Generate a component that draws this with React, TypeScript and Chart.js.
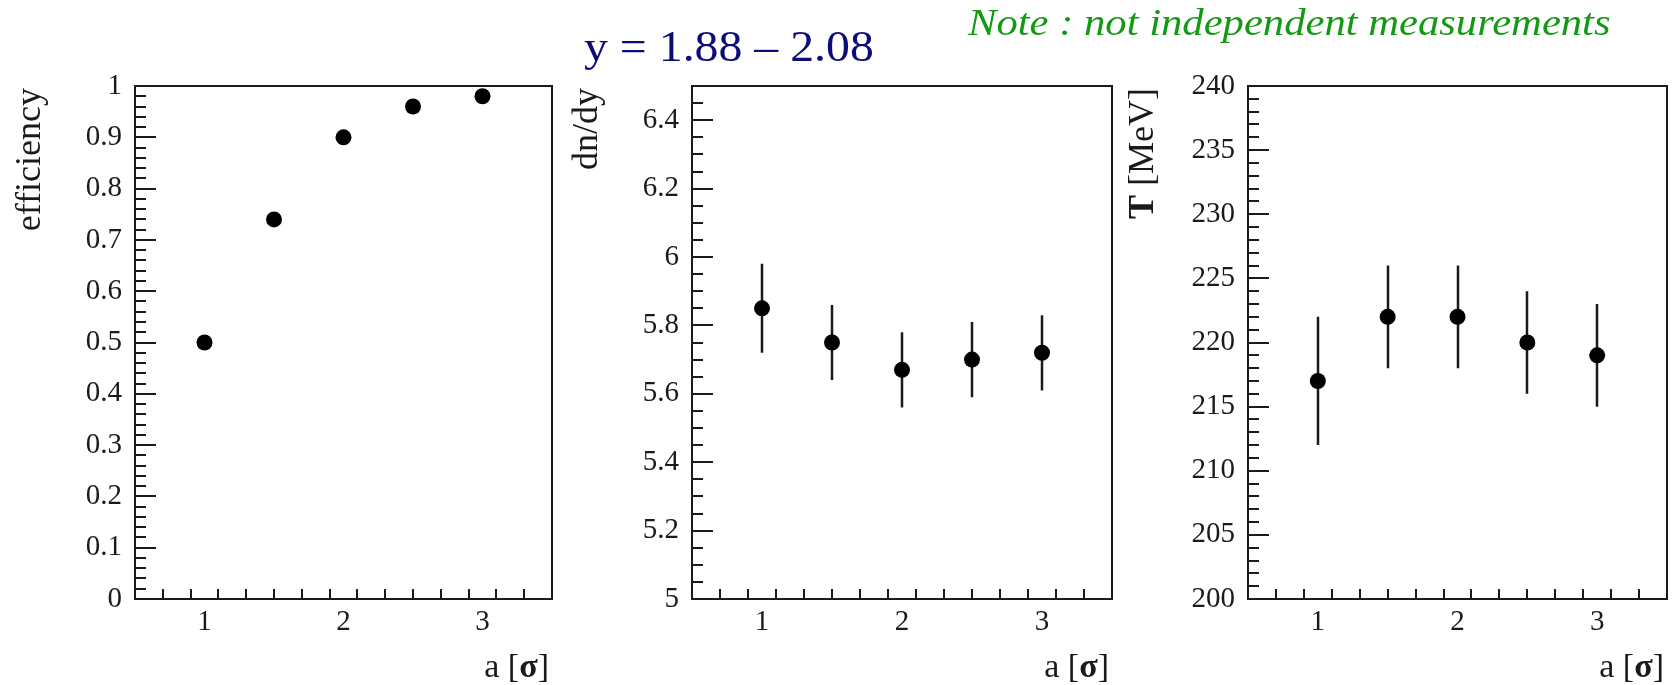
import React, { useEffect, useLayoutEffect, useRef } from 'react';
import { Chart, registerables } from 'chart.js';

Chart.register(...registerables);

// ---------- data ----------
const aValues = [1, 1.5, 2, 2.5, 3];

const efficiency = [0.5, 0.74, 0.9, 0.96, 0.98];

const dndy = [5.85, 5.75, 5.67, 5.7, 5.72];
const dndyLow = [5.72, 5.64, 5.56, 5.59, 5.61];
const dndyHigh = [5.98, 5.86, 5.78, 5.81, 5.83];

const temperature = [217, 222, 222, 220, 219];
const temperatureLow = [212, 218, 218, 216, 215];
const temperatureHigh = [222, 226, 226, 224, 223];

// ---------- ticks ----------
const xTickValues = [1, 2, 3];
const xTickLabels = ['1', '2', '3'];

const effTickValues = [0, 0.1, 0.2, 0.3, 0.4, 0.5, 0.6, 0.7, 0.8, 0.9, 1];
const effTickLabels = ['0', '0.1', '0.2', '0.3', '0.4', '0.5', '0.6', '0.7', '0.8', '0.9', '1'];

const dndyTickValues = [5, 5.2, 5.4, 5.6, 5.8, 6, 6.2, 6.4];
const dndyTickLabels = ['5', '5.2', '5.4', '5.6', '5.8', '6', '6.2', '6.4'];

const tTickValues = [200, 205, 210, 215, 220, 225, 230, 235, 240];
const tTickLabels = ['200', '205', '210', '215', '220', '225', '230', '235', '240'];

// ---------- texts ----------
const titleText = 'y = 1.88 \u2013 2.08';
const noteText = 'Note : not independent measurements';

type Seg = { text: string; bold?: boolean };

const FONT = "'Liberation Serif', 'Times New Roman', serif";
const INK = '#1a1a1a';
const CANVAS_H = 685;
const PLOT_TOP = 86;
const PLOT_BOTTOM = 599;

interface PanelCfg {
  left: number;
  width: number;
  yAxisWidth: number;
  rightPad: number;
  yMin: number;
  yMax: number;
  yMinorStep: number;
  yTickValues: number[];
  yTickLabels: string[];
  values: number[];
  low?: number[];
  high?: number[];
  yTitle: Seg[];
}

const panels: PanelCfg[] = [
  {
    left: 0, width: 560, yAxisWidth: 135, rightPad: 4,
    yMin: 0, yMax: 1, yMinorStep: 0.02,
    yTickValues: effTickValues, yTickLabels: effTickLabels,
    values: efficiency,
    yTitle: [{ text: 'efficiency' }],
  },
  {
    left: 560, width: 560, yAxisWidth: 132, rightPad: 8,
    yMin: 5, yMax: 6.5, yMinorStep: 0.05,
    yTickValues: dndyTickValues, yTickLabels: dndyTickLabels,
    values: dndy, low: dndyLow, high: dndyHigh,
    yTitle: [{ text: 'dn/dy' }],
  },
  {
    left: 1120, width: 555, yAxisWidth: 128, rightPad: 7,
    yMin: 200, yMax: 240, yMinorStep: 1,
    yTickValues: tTickValues, yTickLabels: tTickLabels,
    values: temperature, low: temperatureLow, high: temperatureHigh,
    yTitle: [{ text: 'T', bold: true }, { text: ' [MeV]' }],
  },
];

const xTitle: Seg[] = [{ text: 'a [' }, { text: '\u03c3', bold: true }, { text: ']' }];

function segFont(s: Seg, size: number) {
  return `${s.bold ? 'bold ' : ''}${size}px ${FONT}`;
}

function drawSegsRight(ctx: CanvasRenderingContext2D, segs: Seg[], size: number, xRight: number, y: number) {
  let total = 0;
  const widths = segs.map((s) => {
    ctx.font = segFont(s, size);
    const w = ctx.measureText(s.text).width;
    total += w;
    return w;
  });
  let x = xRight - total;
  ctx.textAlign = 'left';
  ctx.textBaseline = 'alphabetic';
  segs.forEach((s, i) => {
    ctx.font = segFont(s, size);
    ctx.fillText(s.text, x, y);
    x += widths[i];
  });
}

function makePlugin(cfg: PanelCfg) {
  return {
    id: 'rootStyle',
    beforeDatasetsDraw(chart: any) {
      const { ctx, chartArea: a, scales } = chart;
      const xs = scales.x;
      const ys = scales.y;
      ctx.save();
      ctx.strokeStyle = INK;
      ctx.lineWidth = 2;
      ctx.beginPath();
      // x ticks (minor every 0.2)
      const xStep = 0.2;
      const nx = Math.round((xs.max - xs.min) / xStep);
      for (let i = 1; i < nx; i++) {
        const v = xs.min + i * xStep;
        const major = xTickValues.some((t) => Math.abs(t - v) < 1e-6);
        const px = Math.round(xs.getPixelForValue(v));
        ctx.moveTo(px, a.bottom);
        ctx.lineTo(px, a.bottom - (major ? 21 : 10));
      }
      // y ticks
      const ny = Math.round((cfg.yMax - cfg.yMin) / cfg.yMinorStep);
      for (let i = 1; i < ny; i++) {
        const v = cfg.yMin + i * cfg.yMinorStep;
        const major = cfg.yTickValues.some((t) => Math.abs(t - v) < 1e-6);
        const py = Math.round(ys.getPixelForValue(v));
        ctx.moveTo(a.left, py);
        ctx.lineTo(a.left + (major ? 21 : 11), py);
      }
      ctx.stroke();
      // frame
      ctx.strokeRect(a.left, a.top, a.right - a.left, a.bottom - a.top);
      // error bars
      if (cfg.low && cfg.high) {
        ctx.lineWidth = 2.5;
        ctx.beginPath();
        aValues.forEach((x, i) => {
          const px = Math.round(xs.getPixelForValue(x));
          ctx.moveTo(px, ys.getPixelForValue(cfg.low![i]));
          ctx.lineTo(px, ys.getPixelForValue(cfg.high![i]));
        });
        ctx.stroke();
      }
      ctx.restore();
    },
    afterDraw(chart: any) {
      const { ctx, chartArea: a } = chart;
      ctx.save();
      ctx.fillStyle = INK;
      // x title
      drawSegsRight(ctx, xTitle, 34, a.right - 3, 677);
      // y title rotated
      ctx.translate(a.left - 95, a.top + 2);
      ctx.rotate(-Math.PI / 2);
      drawSegsRight(ctx, cfg.yTitle, 36, 0, 0);
      ctx.restore();
    },
  };
}

function Panel({ cfg }: { cfg: PanelCfg }) {
  const ref = useRef<HTMLCanvasElement | null>(null);
  useEffect(() => {
    if (!ref.current) return;
    const chart = new Chart(ref.current, {
      type: 'scatter',
      data: {
        datasets: [
          {
            data: aValues.map((x, i) => ({ x, y: cfg.values[i] })),
            pointRadius: 8,
            pointHoverRadius: 8,
            pointBackgroundColor: '#000',
            pointBorderWidth: 0,
            showLine: false,
          },
        ],
      },
      options: {
        animation: false,
        responsive: false,
        devicePixelRatio: 1,
        layout: { padding: { left: 0, right: cfg.rightPad, top: PLOT_TOP, bottom: 0 } },
        plugins: { legend: { display: false }, tooltip: { enabled: false } },
        scales: {
          x: {
            type: 'linear',
            min: 0.5,
            max: 3.5,
            grid: { display: false, drawTicks: false },
            border: { display: false },
            afterBuildTicks: (scale: any) => {
              scale.ticks = xTickValues.map((value) => ({ value }));
            },
            afterFit: (scale: any) => {
              scale.height = CANVAS_H - PLOT_BOTTOM;
            },
            ticks: {
              autoSkip: false,
              maxRotation: 0,
              padding: 6,
              color: INK,
              font: { family: FONT, size: 29 },
              callback: (_v: any, i: number) => xTickLabels[i],
            },
          },
          y: {
            type: 'linear',
            min: cfg.yMin,
            max: cfg.yMax,
            grid: { display: false, drawTicks: false },
            border: { display: false },
            afterBuildTicks: (scale: any) => {
              scale.ticks = cfg.yTickValues.map((value) => ({ value }));
            },
            afterFit: (scale: any) => {
              scale.width = cfg.yAxisWidth;
            },
            ticks: {
              autoSkip: false,
              padding: 13,
              color: INK,
              font: { family: FONT, size: 29 },
              callback: (_v: any, i: number) => cfg.yTickLabels[i],
            },
          },
        },
      } as any,
      plugins: [makePlugin(cfg)],
    });
    return () => chart.destroy();
  }, [cfg]);
  return (
    <canvas
      ref={ref}
      width={cfg.width}
      height={CANVAS_H}
      style={{ position: 'absolute', left: cfg.left, top: 0, width: cfg.width, height: CANVAS_H }}
    />
  );
}

function StretchText(props: {
  text: string; left: number; baseline: number; targetWidth: number;
  size: number; color: string; italic?: boolean;
}) {
  const ref = useRef<HTMLSpanElement | null>(null);
  useLayoutEffect(() => {
    const el = ref.current;
    if (!el) return;
    const w = el.offsetWidth;
    if (w > 0) el.style.transform = `scaleX(${props.targetWidth / w})`;
  }, [props.text, props.targetWidth]);
  return (
    <span
      ref={ref}
      style={{
        position: 'absolute',
        left: props.left,
        top: props.baseline - 0.8375 * props.size,
        fontFamily: FONT,
        fontSize: props.size,
        fontStyle: props.italic ? 'italic' : 'normal',
        lineHeight: 1,
        color: props.color,
        whiteSpace: 'nowrap',
        display: 'inline-block',
        transformOrigin: 'left top',
      }}
    >
      {props.text}
    </span>
  );
}

export default function App() {
  return (
    <div style={{ position: 'absolute', left: 0, top: 0, width: 1675, height: 685, background: '#fff', overflow: 'hidden' }}>
      {panels.map((p, i) => (
        <Panel key={i} cfg={p} />
      ))}
      <StretchText text={titleText} left={584} baseline={62} targetWidth={290} size={44} color="#0c0c78" />
      <StretchText text={noteText} left={968} baseline={35} targetWidth={643} size={37} color="#139a13" italic />
    </div>
  );
}
